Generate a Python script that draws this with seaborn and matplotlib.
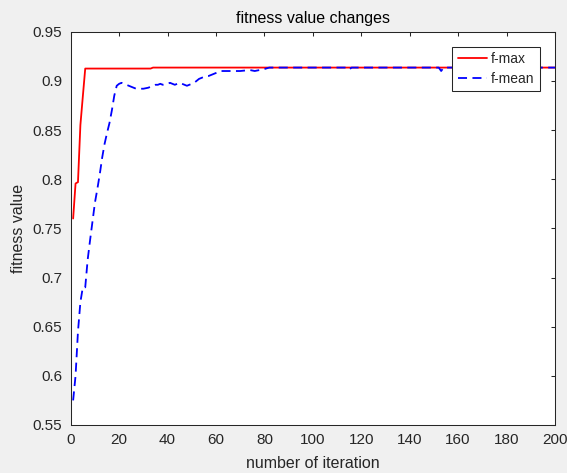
import seaborn as sns
import matplotlib
matplotlib.use("Agg")
import matplotlib.pyplot as plt
import pandas as pd
from matplotlib.ticker import FuncFormatter

# values (breakpoints of each curve)
fmax_iter = [1, 2, 3, 4, 5, 6, 33, 34, 200]
fmax_val = [0.760, 0.7956, 0.797, 0.855, 0.884, 0.9125, 0.9125, 0.9135, 0.9135]

fmean_iter = [1, 2, 3, 4, 5, 6, 7, 8, 9, 10, 11, 12, 13, 14, 15, 16, 17, 18, 19, 20,
              21, 22, 23, 24, 25, 26, 27, 28, 30, 32, 33, 34, 35, 36, 37, 38, 39, 40,
              41, 42, 43, 44, 45, 46, 47, 48, 49, 50, 51, 52, 53, 54, 55, 56, 57, 58,
              59, 60, 61, 62, 66, 70, 74, 76, 78, 80, 82, 114, 115, 116, 152, 153, 154, 200]
fmean_val = [0.575, 0.600, 0.645, 0.675, 0.690, 0.690, 0.718, 0.738, 0.757, 0.776,
             0.790, 0.805, 0.822, 0.836, 0.847, 0.857, 0.870, 0.885, 0.895, 0.897,
             0.898, 0.897, 0.896, 0.895, 0.894, 0.893, 0.892, 0.892, 0.892, 0.893,
             0.894, 0.895, 0.896, 0.896, 0.897, 0.896, 0.897, 0.897, 0.898, 0.897,
             0.896, 0.897, 0.898, 0.897, 0.896, 0.895, 0.896, 0.897, 0.898, 0.900,
             0.902, 0.903, 0.904, 0.905, 0.905, 0.906, 0.907, 0.908, 0.909, 0.910,
             0.910, 0.910, 0.911, 0.910, 0.911, 0.912, 0.9135, 0.9135, 0.9115, 0.9135,
             0.9135, 0.910, 0.9135, 0.9135]

df = pd.concat([
    pd.DataFrame({"iter": fmax_iter, "value": fmax_val, "series": "f-max"}),
    pd.DataFrame({"iter": fmean_iter, "value": fmean_val, "series": "f-mean"}),
], ignore_index=True)

sns.set_style("white")
plt.rcParams['font.family'] = ['Liberation Sans', 'DejaVu Sans']

fig = plt.figure(figsize=(5.67, 4.73), dpi=100, facecolor="#f0f0f0")
ax = fig.add_axes([0.1247, 0.1015, 0.8541, 0.8315])
ax.set_facecolor("white")

sns.lineplot(data=df, x="iter", y="value", hue="series", style="series",
             palette={"f-max": "#ff0000", "f-mean": "#0000ff"},
             dashes={"f-max": "", "f-mean": (5, 3)},
             linewidth=1.3, sort=False, estimator=None, ax=ax)

ax.set_xlim(0, 200)
ax.set_ylim(0.55, 0.95)
ax.set_xticks(range(0, 201, 20))
ax.set_yticks([0.55, 0.6, 0.65, 0.7, 0.75, 0.8, 0.85, 0.9, 0.95])
ax.yaxis.set_major_formatter(FuncFormatter(lambda v, p: f"{v:g}"))

ax.tick_params(direction="in", top=True, right=True, length=3, width=0.75,
               colors="#262626", labelsize=11, pad=6)
for sp in ax.spines.values():
    sp.set_color("#262626")
    sp.set_linewidth(0.75)

ax.set_title("fitness value changes", fontsize=11.5, color="black", pad=6)
ax.set_xlabel("number of iteration", fontsize=11.5, color="#262626", labelpad=6)
ax.set_ylabel("fitness value", fontsize=11.5, color="#262626", labelpad=5)

leg = ax.legend(loc="upper right", bbox_to_anchor=(0.969, 0.962), borderaxespad=0,
                fontsize=10, frameon=True, fancybox=False, framealpha=1,
                handlelength=2.1, handletextpad=0.3, labelspacing=0.4,
                borderpad=0.4, title=None)
leg.get_frame().set_edgecolor("#262626")
leg.get_frame().set_linewidth(0.75)

fig.savefig("out.png", dpi=100, facecolor=fig.get_facecolor())
